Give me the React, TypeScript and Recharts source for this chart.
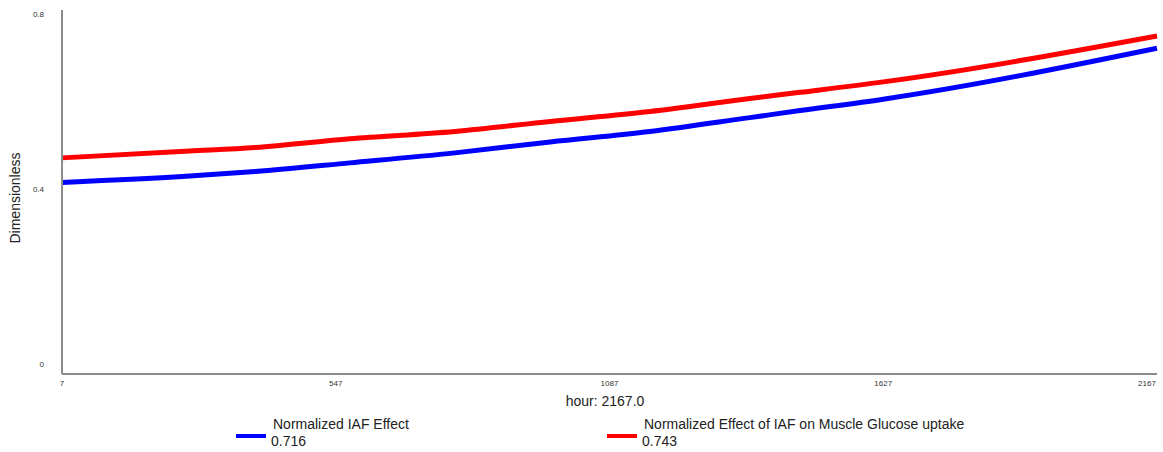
import { LineChart, Line, XAxis, YAxis } from "recharts"

const hours = [7, 259, 388, 575, 782, 970, 1167, 1364, 1463, 1627, 2167]
const iafEffect = [0.421, 0.435, 0.445, 0.464, 0.486, 0.51, 0.533, 0.5635, 0.579, 0.604, 0.716]
const muscleGlucose = [0.475, 0.49, 0.498, 0.517, 0.533, 0.555, 0.577, 0.6055, 0.619, 0.642, 0.743]
const xTicks = [7, 547, 1087, 1627, 2167]
const yTicks = [0, 0.4, 0.8]

const data = hours.map((h, i) => ({ hour: h, iaf: iafEffect[i], muscle: muscleGlucose[i] }))

const font = "'Liberation Sans', Arial, sans-serif"

// labels in the original sit inside the axis range, so nudge them
function YTick(props: any) {
    const { x, y, payload } = props
    const v = payload.value
    const dy = v >= 0.8 ? 4 : v <= 0 ? -10 : -3
    return (
        <text x={x - 10} y={y + dy} dy="0.35em" textAnchor="end" fontSize={8} fill="#333" fontFamily={font}>
            {v}
        </text>
    )
}

function XTick(props: any) {
    const { x, payload } = props
    return (
        <text x={x} y={383} dy="0.35em" textAnchor="middle" fontSize={8} fill="#333" fontFamily={font}>
            {payload.value}
        </text>
    )
}

function LegendItem({ left, color, name, value }: { left: number; color: string; name: string; value: string }) {
    return (
        <div style={{ position: "absolute", left, top: 416 }}>
            <div style={{ position: "absolute", left: 0, top: 18, width: 30, height: 4, background: color }} />
            <div style={{ position: "absolute", left: 37, top: 0, whiteSpace: "nowrap", fontSize: 14, color: "#222" }}>{name}</div>
            <div style={{ position: "absolute", left: 35, top: 17, whiteSpace: "nowrap", fontSize: 14, color: "#222" }}>{value}</div>
        </div>
    )
}

export default function App() {
    return (
        <div style={{ position: "absolute", left: 0, top: 0, width: 1163, height: 452, background: "#fff", fontFamily: font }}>
            <LineChart width={1163} height={452} data={data} margin={{ top: 10, right: 6, left: 0, bottom: 0 }}>
                <XAxis
                    dataKey="hour"
                    type="number"
                    domain={[7, 2167]}
                    ticks={xTicks}
                    height={78}
                    tickLine={false}
                    tick={<XTick />}
                    stroke="#8c8c8c"
                    strokeWidth={2}
                />
                <YAxis
                    type="number"
                    domain={[0, 0.8]}
                    ticks={yTicks}
                    width={62}
                    tickLine={false}
                    tick={<YTick />}
                    stroke="#8c8c8c"
                    strokeWidth={2}
                />
                <Line type="monotone" dataKey="iaf" stroke="#0000ff" strokeWidth={5} dot={false} isAnimationActive={false} />
                <Line type="monotone" dataKey="muscle" stroke="#ff0000" strokeWidth={5} dot={false} isAnimationActive={false} />
            </LineChart>
            <div
                style={{
                    position: "absolute",
                    left: 15,
                    top: 198,
                    transform: "translate(-50%, -50%) rotate(-90deg)",
                    fontSize: 14,
                    color: "#222",
                    whiteSpace: "nowrap",
                }}
            >
                Dimensionless
            </div>
            <div style={{ position: "absolute", left: 605, top: 401, transform: "translate(-50%, -50%)", fontSize: 14, color: "#222", whiteSpace: "nowrap" }}>
                hour: 2167.0
            </div>
            <LegendItem left={236} color="#0000ff" name="Normalized IAF Effect" value="0.716" />
            <LegendItem left={607} color="#ff0000" name="Normalized Effect of IAF on Muscle Glucose uptake" value="0.743" />
        </div>
    )
}
